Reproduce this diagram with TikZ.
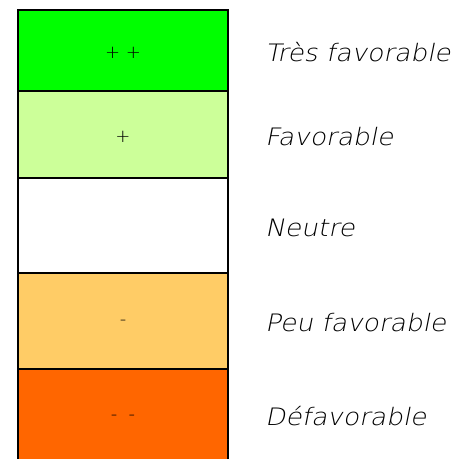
\documentclass[tikz,border=0pt]{standalone}
\usepackage{fontspec}
\setmainfont{DejaVu Sans ExtraLight}[ItalicFont={DejaVu Sans ExtraLight},ItalicFeatures={FakeSlant=0.2,FakeStretch=1.1}]
\definecolor{vfav}{HTML}{00FF00}
\definecolor{fav}{HTML}{CCFF99}
\definecolor{pfav}{HTML}{FFCC66}
\definecolor{dfav}{HTML}{FF6600}
\begin{document}
\begin{tikzpicture}[x=1pt,y=-1pt,
  cell/.style={draw=black,line width=2pt,minimum width=210pt,inner sep=0pt,outer sep=0pt},
  sign/.style={font=\fontsize{18}{18}\selectfont,text=black},
  lbl/.style={anchor=base west,inner sep=0pt,text=black,font=\itshape\fontsize{24}{24}\selectfont}]
\useasboundingbox (0,0) rectangle (455,459);
\clip (0,0) rectangle (455,459);
\node[cell,fill=vfav,minimum height=81pt] (b1) at (123,50.5) {};
\node[cell,fill=fav,minimum height=87pt] (b2) at (123,134.5) {};
\node[cell,fill=white,minimum height=95pt] (b3) at (123,225.5) {};
\node[cell,fill=pfav,minimum height=96pt] (b4) at (123,321) {};
\node[cell,fill=dfav,minimum height=96pt] (b5) at (123,417) {};
\node[sign] (s1) at (123,53) {+ +};
\node[sign] (s2) at (123,137) {+};
\node[sign] (s4) at (123,323) {-};
\node[sign] (s5) at (123,418) {-\ \ -};
\node[lbl] (l1) at (265,61) {Très favorable};
\node[lbl] (l2) at (265,145) {Favorable};
\node[lbl] (l3) at (265,236) {Neutre};
\node[lbl] (l4) at (265,331) {Peu favorable};
\node[lbl] (l5) at (265,425) {Défavorable};
\end{tikzpicture}
\end{document}
